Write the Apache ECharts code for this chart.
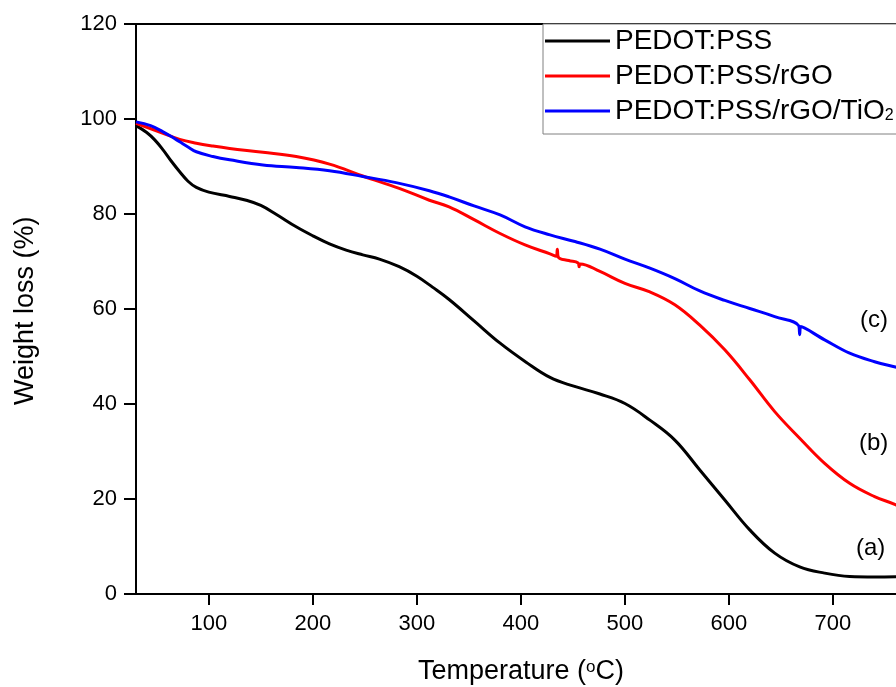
<!DOCTYPE html>
<html>
<head>
<meta charset="utf-8">
<title>TGA</title>
<script src="https://cdn.jsdelivr.net/npm/echarts@6.0.0/dist/echarts.min.js"></script>
<style>
    html, body { margin: 0; padding: 0; background: #fff; }
    #chart { width: 896px; height: 687px; }
</style>
</head>
<body>
<div id="chart"></div>
<script>
// [temperature (C), weight (%)]
const pedot = [
    [30, 98.6], [40, 97.2], [48, 95.6], [56, 93.5], [64, 91.1], [72, 88.9], [80, 86.9], [88, 85.6],
    [100, 84.6], [120, 83.7], [136, 82.9], [150, 81.8], [165, 79.9], [184, 77.3], [200, 75.4],
    [216, 73.7], [232, 72.4], [248, 71.4], [264, 70.5], [283, 68.9], [300, 66.9], [315, 64.6],
    [331, 62.0], [355, 57.5], [380, 52.8], [405, 48.8], [428, 45.6], [450, 43.8], [476, 42.1],
    [500, 40.1], [524, 36.6], [548, 32.4], [572, 26.1], [596, 19.8], [620, 13.5], [644, 8.6],
    [668, 5.7], [692, 4.4], [716, 3.7], [740, 3.6], [775, 3.7]
];
const pedotRgo = [
    [30, 99.1], [56, 97.0], [72, 95.7], [88, 94.9], [104, 94.3], [120, 93.8], [152, 93.0],
    [184, 92.1], [216, 90.5], [248, 88.0], [283, 85.4], [312, 82.9], [331, 81.5], [355, 78.8],
    [380, 75.9], [404, 73.5], [428, 71.6], [434, 71.1], [435, 72.6], [436, 70.9], [446, 70.2],
    [455, 69.7], [456, 68.9], [457, 69.5], [476, 67.9], [500, 65.4], [524, 63.6], [548, 60.9],
    [572, 56.6], [596, 51.4], [620, 45.1], [644, 38.4], [668, 32.8], [692, 27.5], [716, 23.3],
    [740, 20.5], [760, 18.8], [775, 17.0]
];
const pedotRgoTio2 = [
    [30, 99.4], [44, 98.6], [56, 97.3], [64, 96.3], [72, 95.2], [80, 94.1], [88, 93.1],
    [104, 92.1], [120, 91.4], [152, 90.3], [184, 89.8], [216, 89.1], [248, 87.9], [280, 86.6],
    [312, 84.9], [331, 83.6], [355, 81.7], [380, 79.8], [404, 77.3], [428, 75.6], [452, 74.2],
    [476, 72.6], [500, 70.5], [524, 68.6], [548, 66.4], [572, 63.8], [596, 61.8], [620, 60.1],
    [644, 58.4], [667, 56.5], [668, 54.6], [669, 56.3], [692, 53.5], [716, 50.7], [740, 48.9],
    [760, 47.8], [775, 47.0]
];
const names = ['PEDOT:PSS', 'PEDOT:PSS/rGO', 'PEDOT:PSS/rGO/TiO2'];
const colors = ['#000000', '#ff0000', '#0000ff'];
const xTicks = [100, 200, 300, 400, 500, 600, 700, 800];
const labels = ['(c)', '(b)', '(a)'];

const font = '"Liberation Sans", Arial, sans-serif';
const chart = echarts.init(document.getElementById('chart'));

function line(name, data, color) {
    return {
        name: name,
        type: 'line',
        data: data,
        symbol: 'none',
        smooth: 0.4,
        lineStyle: { color: color, width: 3 },
        itemStyle: { color: color },
        z: 3
    };
}

chart.setOption({
    animation: false,
    backgroundColor: '#fff',
    grid: {
        left: 136, top: 24, bottom: 93, right: -41,
        outerBoundsMode: 'none',
        show: true, borderColor: '#000', borderWidth: 2
    },
    legend: {
        data: names,
        orient: 'vertical',
        left: 543, top: 24,
        icon: 'rect',
        itemWidth: 65, itemHeight: 3, itemGap: 7,
        padding: [3, 60, 9, 2],
        backgroundColor: '#fff',
        borderColor: '#808080', borderWidth: 1,
        formatter: function (n) {
            if (n === 'PEDOT:PSS/rGO/TiO2') return '{n|PEDOT:PSS/rGO/TiO}{s|2}';
            return '{n|' + n + '}';
        },
        textStyle: {
            color: '#000', fontFamily: font,
            rich: {
                n: { fontSize: 28, fontFamily: font, color: '#000', lineHeight: 26 },
                s: { fontSize: 16, fontFamily: font, color: '#000', verticalAlign: 'bottom' }
            }
        },
        z: 10
    },
    xAxis: {
        type: 'value', min: 30, max: 800,
        splitLine: { show: false },
        axisLine: { lineStyle: { color: '#000', width: 2 } },
        axisTick: { length: 11, customValues: xTicks, lineStyle: { color: '#000', width: 2 } },
        axisLabel: { customValues: xTicks, fontSize: 22, fontFamily: font, color: '#000', margin: 19 }
    },
    yAxis: {
        type: 'value', min: 0, max: 120, interval: 20,
        splitLine: { show: false },
        axisLine: { lineStyle: { color: '#000', width: 2 } },
        axisTick: { length: 12, lineStyle: { color: '#000', width: 2 } },
        axisLabel: { fontSize: 22, fontFamily: font, color: '#000', margin: 19 }
    },
    graphic: [
        {
            type: 'text', x: 521, y: 672,
            style: {
                text: '{t|Temperature (}{u|o}{t|C)}',
                align: 'center', verticalAlign: 'middle',
                rich: {
                    t: { fontSize: 27, fontFamily: font, fill: '#000' },
                    u: { fontSize: 17, fontFamily: font, fill: '#000', verticalAlign: 'top' }
                }
            }
        },
        {
            type: 'text', x: 12, y: 405, rotation: Math.PI / 2,
            style: { text: 'Weight loss (%)', fontSize: 27, fontFamily: font, fill: '#000', align: 'left', verticalAlign: 'top' }
        },
        { type: 'text', x: 860, y: 308, style: { text: labels[0], fontSize: 24, fontFamily: font, fill: '#000' } },
        { type: 'text', x: 859, y: 431, style: { text: labels[1], fontSize: 24, fontFamily: font, fill: '#000' } },
        { type: 'text', x: 856, y: 536, style: { text: labels[2], fontSize: 24, fontFamily: font, fill: '#000' } }
    ],
    series: [
        line(names[0], pedot, colors[0]),
        line(names[1], pedotRgo, colors[1]),
        line(names[2], pedotRgoTio2, colors[2])
    ]
});
</script>
</body>
</html>
